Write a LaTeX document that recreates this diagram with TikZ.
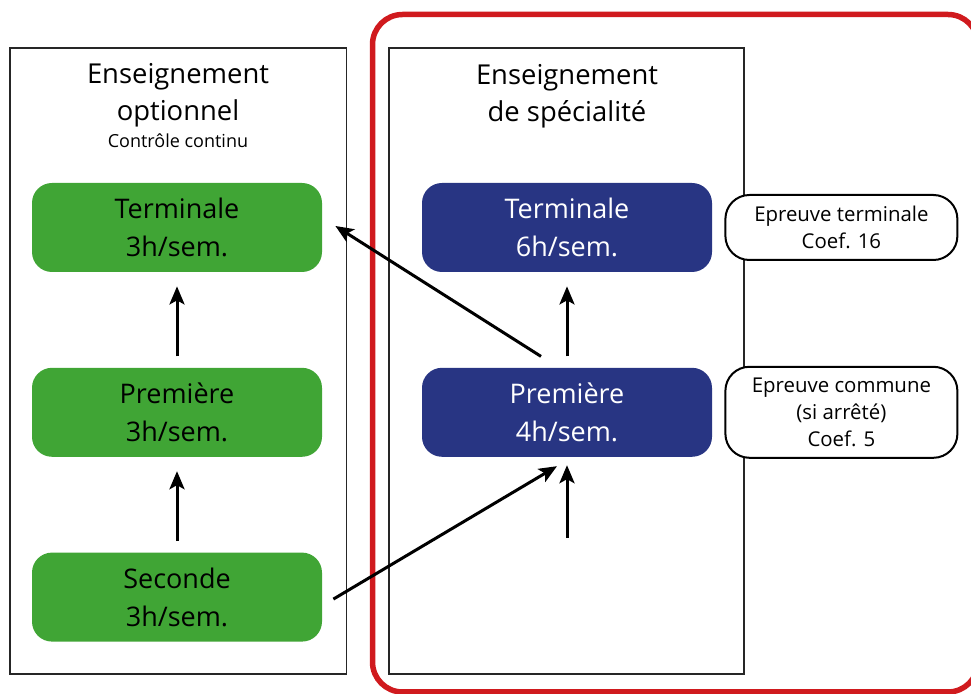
\documentclass[tikz,border=0pt]{standalone}
\usepackage{fontspec}
\setmainfont{Open Sans}
\usetikzlibrary{positioning,arrows.meta}

\definecolor{optgreen}{RGB}{64,165,53}
\definecolor{spenavy}{RGB}{40,53,131}
\definecolor{framered}{RGB}{208,26,30}

\tikzset{
  optbox/.style={rounded corners=10pt, fill=optgreen, text=black, minimum width=145pt, minimum height=44.5pt, align=center, font=\fontsize{13.5}{19}\selectfont},
  spebox/.style={optbox, fill=spenavy, text=white},
  exambox/.style={draw, line width=1pt, rounded corners=12pt, fill=white, minimum width=116pt, align=center, font=\fontsize{10.2}{13.5}\selectfont},
  arr/.style={-{Stealth[length=9pt,width=7.5pt,inset=2pt]}, line width=1.5pt, shorten <=5.5pt, shorten >=7pt},
  title/.style={align=center, anchor=base, inner sep=0pt, font=\fontsize{13.7}{18.5}\selectfont}
}

\begin{document}
\begin{tikzpicture}[x=0.5pt,y=-0.5pt]
        \useasboundingbox (0,0) rectangle (971,694);

        % Frames
        \draw[line width=2.75pt, framered, rounded corners=15pt] (372.5,14.5) rectangle (978,692);
        \draw[line width=0.8pt, black!85] (10,48) rectangle (346.5,674);
        \draw[line width=0.8pt, black!85] (389,48) rectangle (744,674);

        % Titles
        \node[title] (optt) at (178,121) {Enseignement\\optionnel};
        \node[font=\fontsize{9}{11}\selectfont, anchor=base, inner sep=0pt] (optcc) at (178,148) {Contrôle continu};
        \node[title] (spet) at (567,122) {Enseignement\\de spécialité};

        % Optional course
        \node[optbox] (gt) at (177,227.5) {Terminale\\3h/sem.};
        \node[optbox, below=47.5pt of gt] (gp) {Première\\3h/sem.};
        \node[optbox, below=47.5pt of gp] (gs) {Seconde\\3h/sem.};

        % Speciality course
        \node[spebox] (bt) at (567,227.5) {Terminale\\6h/sem.};
        \node[spebox, below=47.5pt of bt] (bp) {Première\\4h/sem.};
        \coordinate[below=40.5pt of bp] (bs);

        % Exams
        \node[exambox, minimum height=32.5pt, right=6pt of bt] (et) {Epreuve terminale\\Coef. 16};
        \node[exambox, minimum height=45.5pt, right=6pt of bp] (ec) {Epreuve commune\\(si arrêté)\\Coef. 5};

        % Arrows
        \draw[arr] (gp) -- (gt);
        \draw[arr] (gs) -- (gp);
        \draw[arr] (bp) -- (bt);
        \draw[arr, shorten <=0pt, shorten >=4pt] (bs) -- (bp.south);
        \draw[arr, shorten <=0pt, shorten >=0pt] ([xshift=-13pt,yshift=5.5pt]bp.north) -- ([xshift=6.5pt,yshift=.75pt]gt.east);
        \draw[arr, shorten <=0pt, shorten >=0pt] ([xshift=5.5pt,yshift=-1pt]gs.east) -- ([xshift=-5pt,yshift=-4.5pt]bp.south);
    \end{tikzpicture}
\end{document}
